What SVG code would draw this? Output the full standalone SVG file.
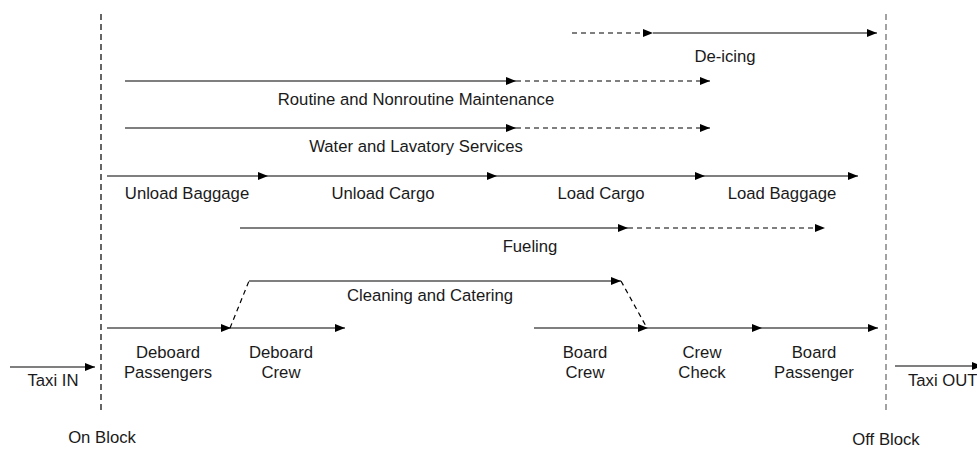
<svg xmlns="http://www.w3.org/2000/svg" width="977" height="449" viewBox="0 0 977 449">
<defs>
<marker id="ah" viewBox="0 0 10 8" refX="10" refY="4" markerWidth="10" markerHeight="8" markerUnits="userSpaceOnUse" orient="auto">
<path d="M0,0 L10,4 L0,8 Z" fill="#000"/>
</marker>
<style>
.s{stroke:#000;stroke-width:1.2;fill:none}
.d{stroke:#000;stroke-width:1.2;fill:none;stroke-dasharray:5,4}
.v{stroke-width:1.2;fill:none;stroke-dasharray:6,4}
text{font-family:"Liberation Sans",Arial,sans-serif;font-size:16.7px;fill:#1a1a1a;text-anchor:middle}
</style>
</defs>
<rect width="977" height="449" fill="#fff"/>
<g id="markers-lines">
<line class="v" x1="101" y1="14" x2="101" y2="414" stroke="#000"/>
<line class="v" x1="886" y1="14" x2="886" y2="414" stroke="#666"/>
</g>
<g id="connectors">
<!-- De-icing -->
<line class="d" x1="572" y1="33" x2="653" y2="33" marker-end="url(#ah)"/>
<line class="s" x1="653" y1="33" x2="877" y2="33" marker-end="url(#ah)"/>
<!-- Routine -->
<line class="s" x1="125" y1="81" x2="516" y2="81" marker-end="url(#ah)"/>
<line class="d" x1="516" y1="81" x2="710" y2="81" marker-end="url(#ah)"/>
<!-- Water -->
<line class="s" x1="125" y1="128" x2="516" y2="128" marker-end="url(#ah)"/>
<line class="d" x1="516" y1="128" x2="710" y2="128" marker-end="url(#ah)"/>
<!-- Baggage/Cargo -->
<line class="s" x1="107" y1="176" x2="268" y2="176" marker-end="url(#ah)"/>
<line class="s" x1="268" y1="176" x2="497" y2="176" marker-end="url(#ah)"/>
<line class="s" x1="497" y1="176" x2="705" y2="176" marker-end="url(#ah)"/>
<line class="s" x1="705" y1="176" x2="858" y2="176" marker-end="url(#ah)"/>
<!-- Fueling -->
<line class="s" x1="240" y1="228" x2="628" y2="228" marker-end="url(#ah)"/>
<line class="d" x1="628" y1="228" x2="825" y2="228" marker-end="url(#ah)"/>
<!-- Cleaning -->
<line class="d" x1="230" y1="328" x2="249" y2="281"/>
<line class="s" x1="249" y1="281" x2="621" y2="281" marker-end="url(#ah)"/>
<line class="d" x1="621" y1="281" x2="647" y2="328"/>
<!-- Bottom row -->
<line class="s" x1="107" y1="328" x2="231" y2="328" marker-end="url(#ah)"/>
<line class="s" x1="231" y1="328" x2="345" y2="328" marker-end="url(#ah)"/>
<line class="s" x1="534" y1="328" x2="648" y2="328" marker-end="url(#ah)"/>
<line class="s" x1="648" y1="328" x2="762" y2="328" marker-end="url(#ah)"/>
<line class="s" x1="762" y1="328" x2="878" y2="328" marker-end="url(#ah)"/>
<!-- Taxi -->
<line class="s" x1="10" y1="367" x2="95" y2="367" marker-end="url(#ah)"/>
<line class="s" x1="895" y1="366" x2="982" y2="366" marker-end="url(#ah)"/>
</g>
<g id="deicing"><text x="725" y="62">De-icing</text></g>
<g id="routine"><text x="416" y="105">Routine and Nonroutine Maintenance</text></g>
<g id="water"><text x="416" y="152">Water and Lavatory Services</text></g>
<g id="unload-baggage"><text x="187" y="199">Unload Baggage</text></g>
<g id="unload-cargo"><text x="383" y="199">Unload Cargo</text></g>
<g id="load-cargo"><text x="601" y="199">Load Cargo</text></g>
<g id="load-baggage"><text x="782" y="199">Load Baggage</text></g>
<g id="fueling"><text x="530" y="252">Fueling</text></g>
<g id="cleaning"><text x="430" y="301">Cleaning and Catering</text></g>
<g id="deboard-passengers"><text x="168" y="358">Deboard</text><text x="168" y="378">Passengers</text></g>
<g id="deboard-crew"><text x="281" y="358">Deboard</text><text x="281" y="378">Crew</text></g>
<g id="board-crew"><text x="585" y="358">Board</text><text x="585" y="378">Crew</text></g>
<g id="crew-check"><text x="702" y="358">Crew</text><text x="702" y="378">Check</text></g>
<g id="board-passenger"><text x="814" y="358">Board</text><text x="814" y="378">Passenger</text></g>
<g id="taxi-in"><text x="53" y="386">Taxi IN</text></g>
<g id="taxi-out"><text x="908" y="386" style="text-anchor:start">Taxi OUT</text></g>
<g id="on-block"><text x="102" y="443">On Block</text></g>
<g id="off-block"><text x="886" y="445">Off Block</text></g>
</svg>
